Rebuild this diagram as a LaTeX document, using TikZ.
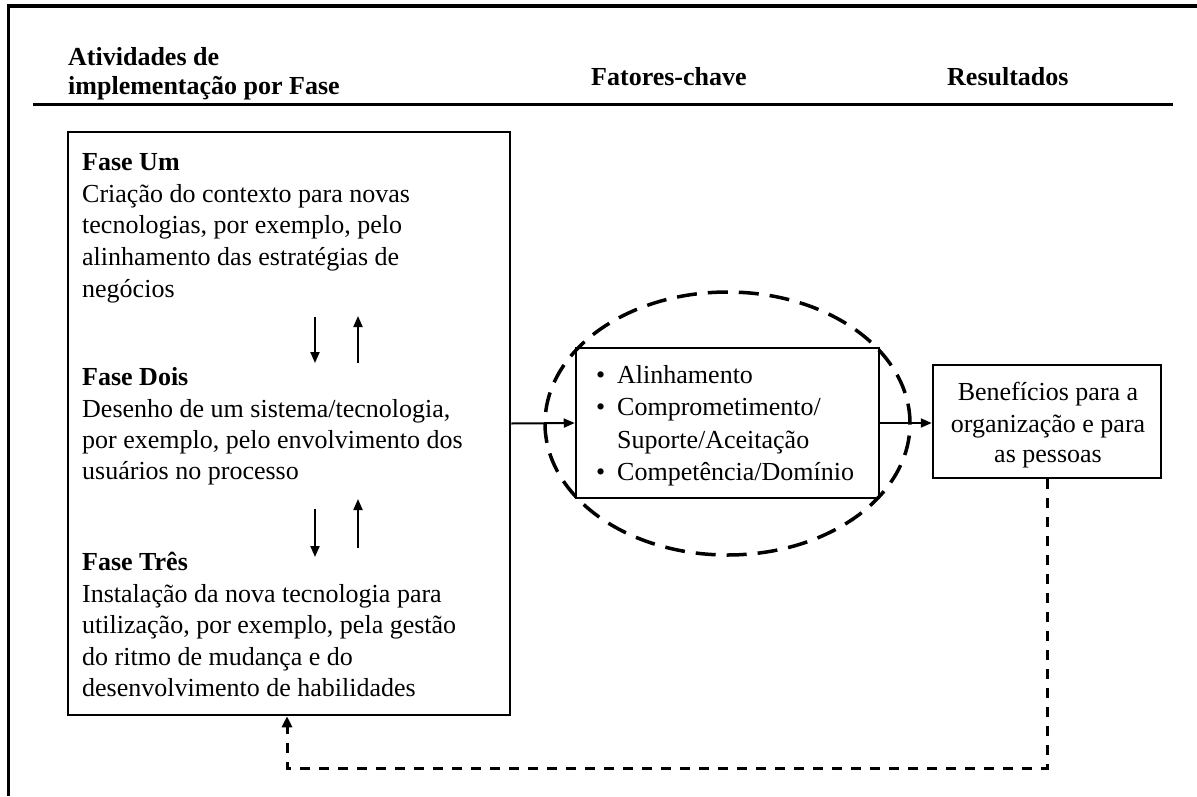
\documentclass[tikz,border=0pt]{standalone}
\usepackage{fontspec}
\setmainfont{Liberation Serif}
\usetikzlibrary{arrows.meta,shapes.geometric}
\newcommand\bodyfs{\fontsize{26}{31.6}\selectfont}
\begin{document}
\begin{tikzpicture}[x=1pt,y=-1pt,
  txt/.style={anchor=base west, inner sep=0pt, font=\bodyfs},
  hd/.style={anchor=base west, inner sep=0pt, font=\bodyfs\bfseries},
  ctr/.style={anchor=base, inner sep=0pt, font=\bodyfs},
  box/.style={draw, line width=2.5pt, inner sep=0pt},
  arr/.style={line width=2pt, -{Triangle[length=11pt,width=9pt]}},
  fbline/.style={line width=3pt, dash pattern=on 10pt off 9pt, -{Triangle[length=11pt,width=10pt]}},
  oval/.style={draw, ellipse, line width=3.5pt, dash pattern=on 20pt off 11pt, inner sep=0pt},
]
\useasboundingbox (0,0) rectangle (1197,796);
% frame and header rule
\draw[line width=3.5pt] (8.5,796) -- (8.5,6) -- (1197,6);
\draw[line width=3pt] (33,104) -- (1173,104);
% headers
\node[hd] (h1a) at (68,65) {Atividades de};
\node[hd] (h1b) at (68,94) {implementação por Fase};
\node[hd] (h2) at (591,85) {Fatores-chave};
\node[hd] (h3) at (947,85) {Resultados};
% boxes
\node[box, minimum width=442pt, minimum height=583pt] (fases) at (289,423.5) {};
\node[oval, minimum width=365pt, minimum height=263pt] (elipse) at (727.5,423.5) {};
\node[box, minimum width=303pt, minimum height=150pt] (fatores) at (727.5,423) {};
\node[box, minimum width=228pt, minimum height=113pt] (benef) at (1047,421.5) {};
% phase one
\node[hd] (p1t) at (82,170) {Fase Um};
\node[txt] (p1a) at (82,202) {Criação do contexto para novas};
\node[txt] (p1b) at (82,233.5) {tecnologias, por exemplo, pelo};
\node[txt] (p1c) at (82,265) {alinhamento das estratégias de};
\node[txt] (p1d) at (82,297) {negócios};
% phase two
\node[hd] (p2t) at (82,385) {Fase Dois};
\node[txt] (p2a) at (82,417) {Desenho de um sistema/tecnologia,};
\node[txt] (p2b) at (82,448) {por exemplo, pelo envolvimento dos};
\node[txt] (p2c) at (82,479) {usuários no processo};
% phase three
\node[hd] (p3t) at (82,570) {Fase Três};
\node[txt] (p3a) at (82,602) {Instalação da nova tecnologia para};
\node[txt] (p3b) at (82,633) {utilização, por exemplo, pela gestão};
\node[txt] (p3c) at (82,665) {do ritmo de mudança e do};
\node[txt] (p3d) at (82,696) {desenvolvimento de habilidades};
% phase arrows
\coordinate (d1s) at (315,317); \coordinate (d1e) at (315,363);
\coordinate (u1s) at (358,363); \coordinate (u1e) at (358,316);
\coordinate (d2s) at (315,509); \coordinate (d2e) at (315,557);
\coordinate (u2s) at (358,548); \coordinate (u2e) at (358,499);
\draw[arr] (d1s) -- (d1e);
\draw[arr] (u1s) -- (u1e);
\draw[arr] (d2s) -- (d2e);
\draw[arr] (u2s) -- (u2e);
% key factors
\node[txt] (b1) at (596,383) {•};
\node[txt] (k1) at (617,383) {Alinhamento};
\node[txt] (b2) at (596,415) {•};
\node[txt] (k2) at (617,415) {Comprometimento/};
\node[txt] (k3) at (617,448) {Suporte/Aceitação};
\node[txt] (b3) at (596,480) {•};
\node[txt] (k4) at (617,480) {Competência/Domínio};
% results
\node[ctr] (r1) at (1048,400) {Benefícios para a};
\node[ctr] (r2) at (1048,432) {organização e para};
\node[ctr] (r3) at (1048,462) {as pessoas};
% connectors
\draw[arr] (fases.east) -- (fatores.west);
\draw[arr] (fatores.east) -- (fatores.east -| benef.west);
\coordinate (fbc) at (287,768);
\draw[fbline] (benef.south) |- (fbc) -- (fbc |- fases.south);
\end{tikzpicture}
\end{document}
